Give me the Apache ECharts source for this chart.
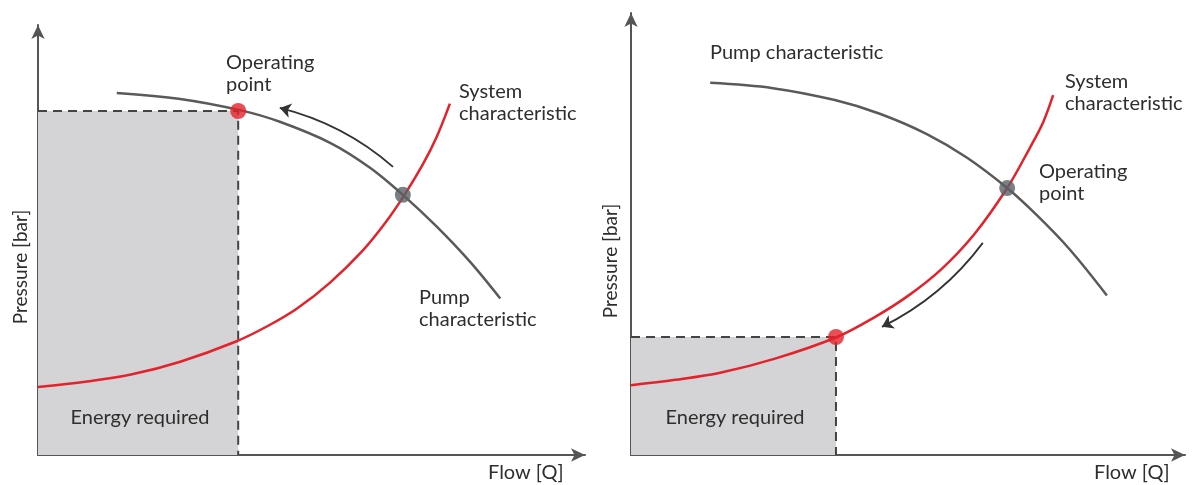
<!DOCTYPE html>
<html>
<head>
<meta charset="utf-8">
<script src="https://cdn.jsdelivr.net/npm/echarts@6/dist/echarts.min.js"></script>
<style>
  html, body { margin: 0; padding: 0; background: #fff; }
  #chart { width: 1198px; height: 485px; }
</style>
</head>
<body>
<div id="chart"></div>
<script>
// flow / pressure in 0..100 units
var pumpLeft = [[14.4, 84.2], [26, 82.8], [36.9, 80.2], [44.2, 77.5], [53.4, 72.6], [60.7, 66.8], [66.7, 60.5], [72.9, 53.1], [79.0, 44.9], [84.5, 36.4]];
var systemLeft = [[0, 15.8], [9, 17.1], [17, 18.7], [26, 21.7], [36.2, 26.4], [42, 30.0], [47.3, 34.0], [53.4, 40.1], [59.4, 47.6], [63.5, 54.0], [66.7, 59.9], [70.4, 67.7], [72.9, 74.0], [75.3, 81.7]];
var pumpRight = [[14.3, 84.2], [25.6, 83.0], [36.8, 80.3], [44.9, 77.2], [53.4, 72.6], [60.6, 67.3], [67.9, 60.4], [73.3, 54.2], [79.2, 46.5], [85.9, 36.1]];
var systemRight = [[0, 15.8], [8, 17.0], [16.1, 18.6], [26, 21.8], [37.2, 26.7], [44, 31.2], [50, 36.0], [56, 42.0], [62, 50.0], [67.9, 60.4], [72, 69.5], [74.4, 75.3], [76.2, 81.4]];

var opLeft = [36.6, 80.0];      // throttled operating point (red)
var crossLeft = [66.7, 60.5];   // original intersection (grey)
var opRight = [37.0, 26.7];
var crossRight = [67.9, 60.4];

var arrowLeft = [[64.9, 67.0], [44.2, 80.7]];
var arrowRight = [[63.5, 48.0], [45.3, 29.0]];

var RED = '#e3222b';
var GREY = '#5a5a5a';
var TXT = '#2e2e2e';
var FONT = '20px Lato, sans-serif';

var myChart = echarts.init(document.getElementById('chart'), null, { renderer: 'canvas' });

function axis(i) {
  return {
    gridIndex: i, type: 'value', min: 0, max: 100,
    axisLine: { show: true, lineStyle: { color: '#555', width: 2 }, symbol: ['none', 'arrow'], symbolSize: [10, 14] },
    axisTick: { show: false }, axisLabel: { show: false }, splitLine: { show: false }
  };
}

function panel(i, pump, system, op, cross, arrow) {
  return [
    {
      type: 'line', xAxisIndex: i, yAxisIndex: i, silent: true,
      data: [[0, op[1]], op, [op[0], 0]],
      symbol: 'none', lineStyle: { color: '#444', width: 2, type: [9, 6] },
      markArea: {
        silent: true,
        itemStyle: { color: '#d4d4d6' },
        data: [[{ coord: [0, 0] }, { coord: op }]]
      },
      z: 1
    },
    {
      type: 'line', xAxisIndex: i, yAxisIndex: i, data: pump, smooth: 0.35,
      symbol: 'none', lineStyle: { color: GREY, width: 2.5 }, z: 3
    },
    {
      type: 'line', xAxisIndex: i, yAxisIndex: i, data: system, smooth: 0.35,
      symbol: 'none', lineStyle: { color: RED, width: 2.5 }, z: 3
    },
    {
      type: 'scatter', xAxisIndex: i, yAxisIndex: i, symbolSize: 16, z: 5,
      data: [
        { value: op, itemStyle: { color: RED } },
        { value: cross, itemStyle: { color: '#596166' } }
      ]
    },
    {
      type: 'lines', coordinateSystem: 'cartesian2d', xAxisIndex: i, yAxisIndex: i, z: 4,
      symbol: ['none', 'arrow'], symbolSize: 11,
      lineStyle: { color: '#333', width: 1.8, curveness: i === 0 ? -0.12 : 0.12, opacity: 1 },
      data: [{ coords: arrow }]
    }
  ];
}

function txt(x, y, s, extra) {
  var st = { text: s, font: FONT, fill: TXT, lineHeight: 22, textAlign: 'left', textVerticalAlign: 'top' };
  for (var k in extra) st[k] = extra[k];
  return { type: 'text', x: x, y: y, style: st, z: 10 };
}

myChart.setOption({
  animation: false,
  grid: [
    { left: 38, top: 25, width: 547, height: 430 },
    { left: 631, top: 13, width: 554, height: 442 }
  ],
  xAxis: [axis(0), axis(1)],
  yAxis: [axis(0), axis(1)],
  series: [].concat(
    panel(0, pumpLeft, systemLeft, opLeft, crossLeft, arrowLeft),
    panel(1, pumpRight, systemRight, opRight, crossRight, arrowRight)
  ),
  graphic: [
    txt(226, 52, 'Operating\npoint'),
    txt(459, 81, 'System\ncharacteristic'),
    txt(419, 287, 'Pump\ncharacteristic'),
    txt(140, 418, 'Energy required', { textAlign: 'center', textVerticalAlign: 'middle' }),
    txt(488, 473, 'Flow [Q]', { textVerticalAlign: 'middle' }),
    { type: 'text', x: 21, y: 267, rotation: Math.PI / 2, style: { text: 'Pressure [bar]', font: '19px Lato, sans-serif', fill: TXT, textAlign: 'center', textVerticalAlign: 'middle' } },

    txt(710, 53, 'Pump characteristic', { textVerticalAlign: 'middle' }),
    txt(1065, 71, 'System\ncharacteristic'),
    txt(1039, 161, 'Operating\npoint'),
    txt(735, 418, 'Energy required', { textAlign: 'center', textVerticalAlign: 'middle' }),
    txt(1094, 473, 'Flow [Q]', { textVerticalAlign: 'middle' }),
    { type: 'text', x: 611, y: 261, rotation: Math.PI / 2, style: { text: 'Pressure [bar]', font: '19px Lato, sans-serif', fill: TXT, textAlign: 'center', textVerticalAlign: 'middle' } }
  ]
});
</script>
</body>
</html>
